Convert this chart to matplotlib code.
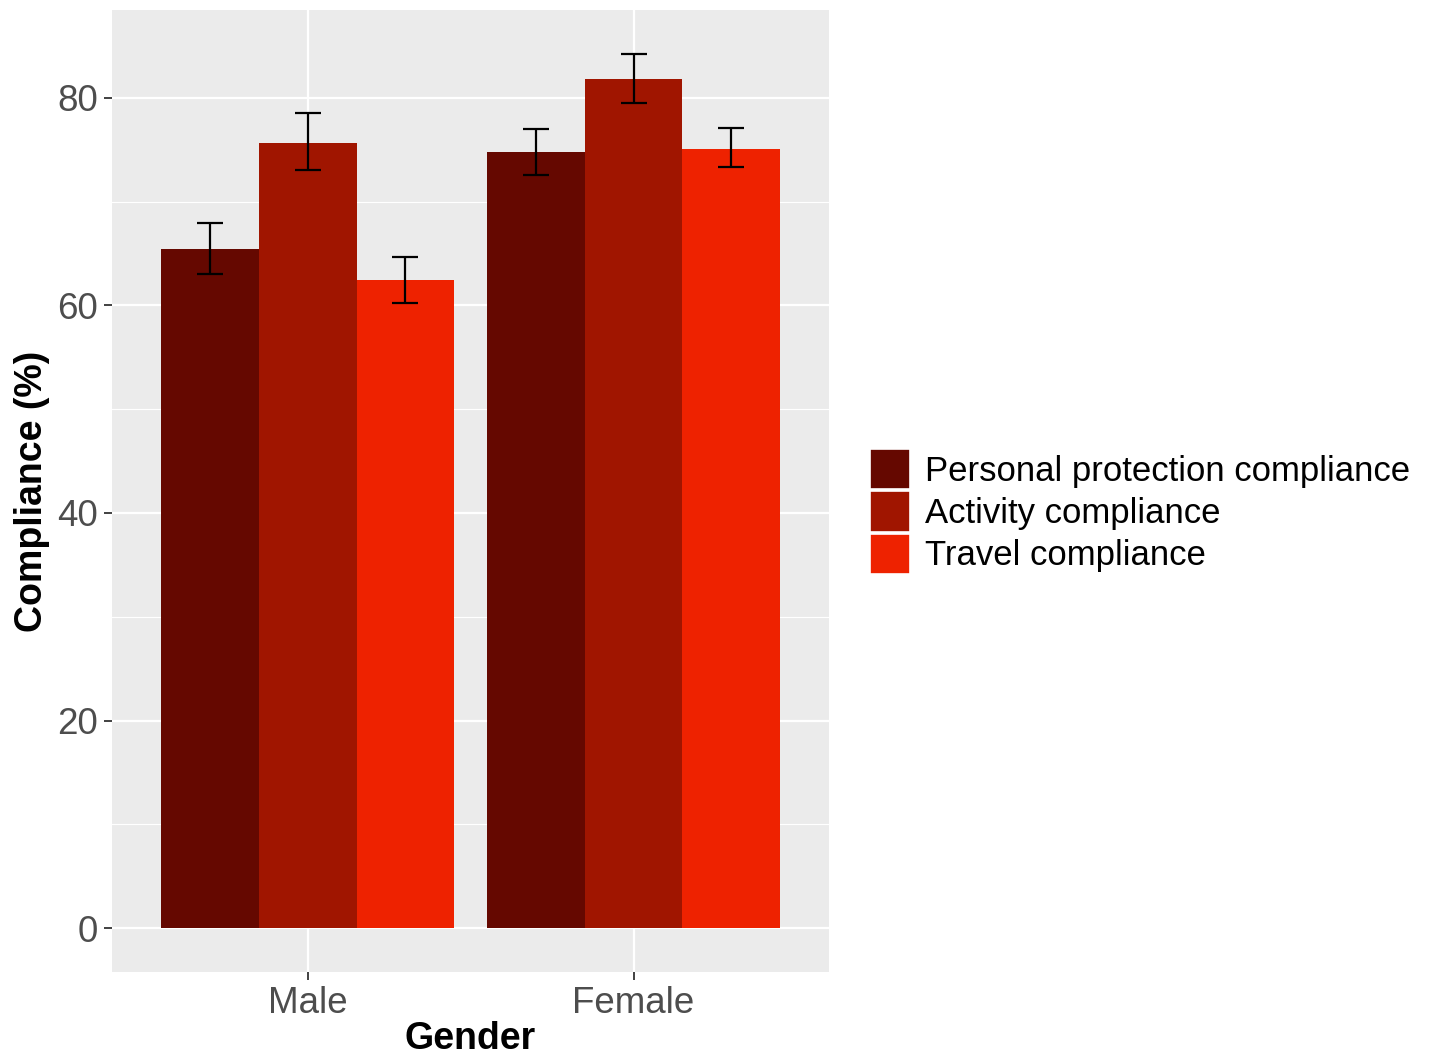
import matplotlib.pyplot as plt
import numpy as np
from matplotlib.patches import Patch

plt.rcParams['font.family'] = ['Liberation Sans', 'DejaVu Sans']

genders = ['Male', 'Female']
series = ['Personal protection compliance', 'Activity compliance', 'Travel compliance']
colors = ['#650800', '#A01500', '#EE2200']

# mean compliance (%) and error bar limits, per series, per gender
means = [[65.4, 74.8],
         [75.6, 81.8],
         [62.4, 75.1]]
err_low = [[63.0, 72.6],
           [73.0, 79.5],
           [60.2, 73.3]]
err_high = [[67.9, 77.0],
            [78.5, 84.2],
            [64.7, 77.1]]

fig = plt.figure(figsize=(14.33, 10.59), dpi=100)
ax = fig.add_axes([0.0782, 0.0822, 0.5004, 0.9084])
ax.set_facecolor('#EBEBEB')

x = np.arange(1, len(genders) + 1)
dodge = 0.9
w = dodge / len(series)

for i, (name, col) in enumerate(zip(series, colors)):
    pos = x - dodge / 2 + w / 2 + i * w
    m = np.array(means[i])
    lo = m - np.array(err_low[i])
    hi = np.array(err_high[i]) - m
    ax.bar(pos, m, width=w, color=col, zorder=3, label=name)
    ax.errorbar(pos, m, yerr=[lo, hi], fmt='none', ecolor='black',
                elinewidth=1.6, capsize=9.6, capthick=1.6, zorder=4)

# ggplot-like grid
ax.set_yticks([0, 20, 40, 60, 80])
ax.set_yticks([10, 30, 50, 70], minor=True)
ax.grid(True, which='major', color='white', linewidth=1.6, zorder=0)
ax.grid(True, which='minor', axis='y', color='white', linewidth=0.8, zorder=0)
ax.set_axisbelow(True)

ax.set_xticks(x)
ax.set_xticklabels(genders)
ax.set_xlim(0.4, 2.6)
ax.set_ylim(-4.21, 88.45)

for s in ax.spines.values():
    s.set_visible(False)
ax.tick_params(axis='both', which='major', length=6, width=1.3, color='#333333',
               labelsize=26.5, labelcolor='#4D4D4D', pad=4)
ax.tick_params(axis='both', which='minor', length=0)

ax.set_xlabel('Gender', fontsize=27, fontweight='bold', labelpad=0)
ax.set_ylabel('Compliance (%)', fontsize=27, fontweight='bold', labelpad=5)

handles = [Patch(facecolor=c, edgecolor='white', linewidth=1.2) for c in colors]
fig.legend(handles, series, loc='center left', bbox_to_anchor=(0.607, 0.517),
           frameon=False, fontsize=25, handlelength=1.15, handleheight=1.4,
           labelspacing=0.06, handletextpad=0.45, borderaxespad=0, borderpad=0)

fig.savefig('out.png', dpi=100)
